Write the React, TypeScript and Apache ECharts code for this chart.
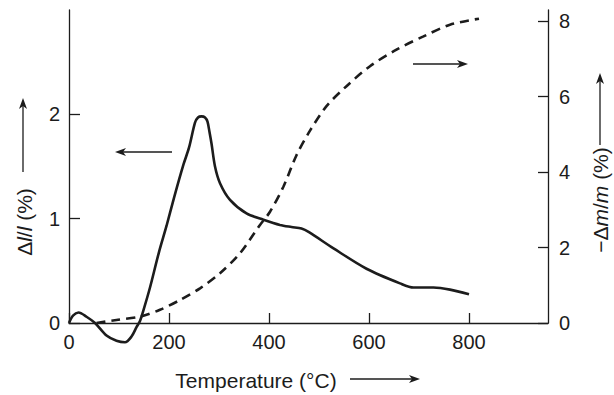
import React, { useEffect, useRef } from "react";
import * as echarts from "echarts";

// Δl/l (%) — solid curve (left axis)
const solidT = [0, 8, 19, 35, 52, 75, 95, 112, 125, 135, 142, 150, 162, 180, 195, 210, 229, 240, 252, 258, 265, 272, 277, 281, 285, 292, 302, 322, 355, 389, 422, 445, 465, 480, 529, 595, 662, 689, 729, 762, 800];
const solidV = [0, 0.07, 0.1, 0.06, 0, -0.12, -0.17, -0.185, -0.13, -0.04, 0.02, 0.14, 0.34, 0.68, 0.93, 1.2, 1.52, 1.68, 1.92, 1.97, 1.98, 1.97, 1.93, 1.83, 1.72, 1.5, 1.34, 1.18, 1.05, 0.99, 0.94, 0.92, 0.905, 0.87, 0.715, 0.52, 0.38, 0.34, 0.34, 0.32, 0.275];

// −Δm/m (%) — dashed curve (right axis)
const dashT = [55, 95, 142, 182, 222, 262, 302, 342, 382, 402, 429, 455, 482, 515, 555, 602, 655, 709, 762, 820];
const dashV = [0.0, 0.08, 0.17, 0.35, 0.61, 0.92, 1.32, 1.85, 2.6, 2.95, 3.62, 4.45, 5.1, 5.75, 6.28, 6.81, 7.25, 7.6, 7.91, 8.07];

const xTicks = [0, 200, 400, 600, 800];
const leftTicks = [0, 1, 2];
const rightTicks = [0, 2, 4, 6, 8];

const xTitle = "Temperature (°C)";

const FONT = "'Liberation Sans', Arial, Helvetica, sans-serif";
const INK = "#1c1c1c";

function arrow(x1: number, y1: number, x2: number, y2: number) {
  // line from (x1,y1) to tip (x2,y2) with filled head
  const dx = x2 - x1;
  const dy = y2 - y1;
  const len = Math.sqrt(dx * dx + dy * dy);
  const ux = dx / len;
  const uy = dy / len;
  const hl = 11;
  const hw = 4;
  const bx = x2 - ux * hl;
  const by = y2 - uy * hl;
  const px = -uy;
  const py = ux;
  return [
    {
      type: "line",
      shape: { x1, y1, x2: bx + ux * 3, y2: by + uy * 3 },
      style: { stroke: INK, lineWidth: 1.3 },
    },
    {
      type: "polygon",
      shape: {
        points: [
          [x2, y2],
          [bx + px * hw, by + py * hw],
          [bx + ux * 3, by + uy * 3],
          [bx - px * hw, by - py * hw],
        ],
      },
      style: { fill: INK },
    },
  ];
}

export default function App() {
  const ref = useRef<HTMLDivElement>(null);
  useEffect(() => {
    if (!ref.current) return;
    const chart = echarts.init(ref.current, null, { renderer: "svg" });
    const solidData = solidT.map((t, i) => [t, solidV[i]]);
    const dashData = dashT.map((t, i) => [t, dashV[i]]);
    const axisLabel = { color: INK, fontSize: 20, fontFamily: FONT };
    chart.setOption({
      animation: false,
      backgroundColor: "#ffffff",
      grid: { left: 69, right: 66, top: 10, bottom: 72 },
      xAxis: {
        type: "value",
        min: 0,
        max: 958,
        interval: 200,
        axisLine: { show: true, onZero: false, lineStyle: { color: INK, width: 1.3 } },
        axisTick: { show: true, inside: true, length: 10, customValues: xTicks, lineStyle: { color: INK, width: 1.3 } },
        axisLabel: { ...axisLabel, margin: 9, customValues: xTicks },
        splitLine: { show: false },
      },
      yAxis: [
        {
          type: "value",
          min: 0,
          max: 3,
          interval: 1,
          position: "left",
          axisLine: { show: true, onZero: false, lineStyle: { color: INK, width: 1.3 } },
          axisTick: { show: true, inside: true, length: 11, customValues: leftTicks, lineStyle: { color: INK, width: 1.3 } },
          axisLabel: { ...axisLabel, margin: 9, customValues: leftTicks },
          splitLine: { show: false },
        },
        {
          type: "value",
          min: 0,
          max: 8.3,
          interval: 2,
          position: "right",
          axisLine: { show: true, onZero: false, lineStyle: { color: INK, width: 1.3 } },
          axisTick: { show: true, inside: true, length: 10, customValues: rightTicks, lineStyle: { color: INK, width: 1.3 } },
          axisLabel: { ...axisLabel, margin: 11, customValues: rightTicks },
          splitLine: { show: false },
        },
      ],
      series: [
        {
          type: "line",
          yAxisIndex: 0,
          data: solidData,
          symbol: "none",
          smooth: 0.3,
          clip: false,
          lineStyle: { color: INK, width: 2.6 },
        },
        {
          type: "line",
          yAxisIndex: 1,
          data: dashData,
          symbol: "none",
          smooth: 0.3,
          clip: false,
          lineStyle: { color: INK, width: 2.6, type: [9, 6] },
        },
      ],
      graphic: [
        {
          type: "text",
          x: 256,
          y: 380,
          style: { text: xTitle, fill: INK, font: `21px ${FONT}`, align: "center", verticalAlign: "middle" },
        },
        {
          type: "text",
          x: 24,
          y: 222,
          rotation: Math.PI / 2,
          style: {
            text: "{n|Δ}{i|l}{n|/}{i|l}{n| (%)}",
            fill: INK,
            align: "center",
            verticalAlign: "middle",
            rich: {
              n: { fontSize: 21, fontFamily: FONT, fill: INK },
              i: { fontSize: 21, fontFamily: FONT, fontStyle: "italic", fill: INK },
            },
          },
        },
        {
          type: "text",
          x: 600,
          y: 200,
          rotation: Math.PI / 2,
          style: {
            text: "{n|−Δ}{i|m}{n|/}{i|m}{n| (%)}",
            fill: INK,
            align: "center",
            verticalAlign: "middle",
            rich: {
              n: { fontSize: 21, fontFamily: FONT, fill: INK },
              i: { fontSize: 21, fontFamily: FONT, fontStyle: "italic", fill: INK },
            },
          },
        },
        ...arrow(350, 379, 420, 379),
        ...arrow(23, 172, 23, 98),
        ...arrow(600, 145, 600, 73),
        ...arrow(172, 152, 115, 152),
        ...arrow(413, 64, 468, 64),
      ],
    });
    return () => chart.dispose();
  }, []);
  return (
    <div
      ref={ref}
      style={{ position: "absolute", left: 0, top: 0, width: 614, height: 395 }}
    />
  );
}
